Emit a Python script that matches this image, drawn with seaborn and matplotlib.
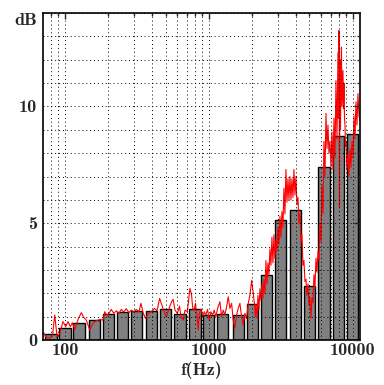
import matplotlib
matplotlib.use("Agg")
import matplotlib.pyplot as plt
import seaborn as sns

# third-octave band levels (grey bars)
band_freqs = [80, 100, 125, 160, 200, 250, 315, 400, 500, 630, 800,
              1000, 1250, 1600, 2000, 2500, 3150, 4000, 5000, 6300, 8000, 10000]
band_db = [0.25, 0.5, 0.71, 0.84, 1.12, 1.19, 1.23, 1.23, 1.32, 1.12, 1.31,
           1.07, 1.12, 1.07, 1.55, 2.79, 5.12, 5.55, 2.32, 7.40, 8.73, 8.84]

# narrow-band spectrum (red line)
spec_freqs = [70.3, 71.5, 73.8, 76.2, 78.7, 81.9, 84.8, 88.0, 91.9, 96.8,
              101.1, 104.9, 108.8, 112.4, 116.8, 123.1, 129.8, 134.8, 140.6, 148.5,
              156.5, 165.0, 175.8, 183.7, 188.7, 195.8, 202.2, 209.7, 218.2, 227.2,
              237.2, 245.9, 255.6, 266.3, 278.4, 288.9, 300.3, 312.6, 326.7, 337.3,
              348.3, 363.6, 379.2, 397.8, 418.6, 435.8, 454.5, 473.8, 492.9, 506.8,
              528, 551, 564, 581, 604, 624, 640, 664, 682, 708,
              723, 738, 758, 770, 786, 807, 829, 842, 856, 881,
              905, 928, 953, 979, 1005, 1032, 1061, 1088, 1118, 1149,
              1192, 1225, 1257, 1291, 1327, 1362, 1399, 1438, 1475, 1515,
              1557, 1598, 1642, 1687, 1731, 1779, 1827, 1876, 1928, 1981,
              2034, 2075, 2101,
              2122, 2156, 2191, 2226, 2262, 2299, 2336, 2374, 2412, 2451,
              2490, 2530, 2571, 2613, 2655, 2698, 2741, 2785, 2830, 2876,
              2923, 2970, 3018, 3066, 3116, 3166, 3217, 3269, 3322, 3376,
              3430, 3486, 3542, 3599, 3657, 3716, 3776, 3837, 3899, 3962,
              4026, 4091, 4157, 4224, 4292, 4361, 4432, 4503, 4576, 4650,
              4725, 4801, 4879, 4957, 5038, 5119, 5201, 5285, 5371, 5457,
              5545, 5635, 5726, 5818, 5912, 6007, 6105, 6203, 6303, 6405,
              6508, 6613, 6720, 6829, 6939, 7051, 7165, 7280, 7398, 7517,
              7638, 7762, 7887, 7950, 8014, 8079, 8143, 8209, 8275, 8341,
              8408, 8476, 8544, 8613, 8682, 8752, 8823, 8894, 8965, 9110,
              9256, 9406, 9557, 9711, 9868, 10027, 10190, 10350, 10520, 10690,
              10860, 11040, 11220]
spec_db = [0.21, 0.30, 0.10, 0.12, 0.08, 0.20, 1.07, 0.15, 0.28, 0.79,
           0.57, 0.79, 0.57, 0.74, 0.43, 0.88, 1.17, 0.97, 0.85, 0.43,
           0.71, 0.83, 0.88, 0.85, 1.21, 1.06, 1.14, 1.31, 1.14, 1.25,
           1.14, 1.31, 1.20, 1.34, 1.17, 1.28, 1.20, 1.31, 1.21, 1.57,
           1.17, 0.92, 1.14, 1.21, 1.35, 1.25, 1.78, 1.45, 1.14, 1.00,
           1.35, 1.64, 1.74, 1.28, 1.14, 1.45, 1.00, 0.85, 1.28, 1.21,
           1.71, 2.21, 1.92, 1.42, 1.25, 1.57, 0.92, 0.43, 1.14, 1.31,
           1.00, 1.21, 1.07, 1.31, 0.85, 1.21, 1.07, 1.28, 1.00, 1.35,
           1.64, 1.00, 1.28, 1.07, 1.42, 1.85, 1.35, 1.57, 0.85, 0.50,
           1.07, 1.35, 1.57, 1.00, 0.64, 1.14, 0.92, 1.57, 1.92, 2.56,
           2.00, 1.50, 1.00,
           1.50, 0.95, 1.90, 1.30, 2.20, 1.70, 2.40, 1.80, 2.60, 2.00,
           3.40, 2.40, 3.30, 2.80, 3.90, 3.20, 4.40, 3.30, 4.50, 3.50,
           4.30, 3.80, 4.80, 4.10, 5.30, 4.40, 5.50, 4.80, 6.50, 5.40,
           7.30, 5.90, 6.90, 6.00, 7.00, 6.00, 6.90, 6.10, 7.30, 6.20,
           7.00, 5.80, 6.10, 5.00, 5.40, 4.20, 4.50, 3.20, 3.40, 2.50,
           2.60, 1.90, 2.40, 1.50, 1.80, 0.93, 1.80, 1.60, 2.80, 2.20,
           3.50, 2.90, 3.80, 3.40, 5.00, 4.20, 6.60, 5.40, 8.50, 7.00,
           9.70, 8.20, 9.20, 8.00, 8.50, 7.40, 8.90, 7.30, 9.50, 7.80,
           11.10, 8.60, 12.30, 9.50, 13.25, 5.70, 12.00, 9.00, 11.00, 12.54,
           10.00, 10.83, 11.54, 9.90, 11.00, 9.50, 9.20, 8.30, 8.50, 7.30,
           8.00, 7.00, 8.20, 7.40, 8.50, 7.80, 9.60, 8.60, 10.20, 9.20,
           10.55, 9.60, 9.40]

y_major = [0, 5, 10]
x_major = [100, 1000, 10000]
x_labels = ['100', '1000', '10000']

sns.set_style('white')
plt.rcParams['font.family'] = ['cmb10', 'DejaVu Serif']
plt.rcParams['axes.unicode_minus'] = False
plt.rcParams['font.size'] = 13

fig = plt.figure(figsize=(3.84, 3.85), dpi=100)
ax = fig.add_axes([43 / 384, 45 / 385, 317 / 384, 327 / 385])

sns.barplot(x=band_freqs, y=band_db, native_scale=True, log_scale=(True, False),
            orient='x', errorbar=None, color='#808080', saturation=1,
            edgecolor='black', linewidth=1.0, width=0.8, ax=ax)
sns.lineplot(x=spec_freqs, y=spec_db, color='red', lw=0.8,
             estimator=None, sort=False, ax=ax)

ax.set_xlim(70.3, 11220)
ax.set_ylim(0, 14)
ax.set_xticks(x_major)
ax.set_xticklabels(x_labels)
ax.set_yticks(y_major)
ax.set_yticks(range(0, 15), minor=True)
ax.set_yticklabels([str(v) for v in y_major])

ax.set_axisbelow(False)
ax.grid(True, which='both', ls=(0, (1, 3)), color='black', lw=0.7)
ax.tick_params(which='both', direction='in', top=True, right=True, width=1.0)
ax.tick_params(which='major', length=4)
ax.tick_params(which='minor', length=2.5)
ax.tick_params(axis='x', which='both', pad=2.5)
ax.tick_params(axis='y', which='both', pad=4)
for s in ax.spines.values():
    s.set_linewidth(1.2)
    s.set_color('black')

ax.set_xlabel('f(Hz)', labelpad=2)
ax.set_ylabel('')
fig.text(37 / 384, 1 - 20.5 / 385, 'dB', ha='right', va='center')

plt.savefig('out.png', dpi=100)
